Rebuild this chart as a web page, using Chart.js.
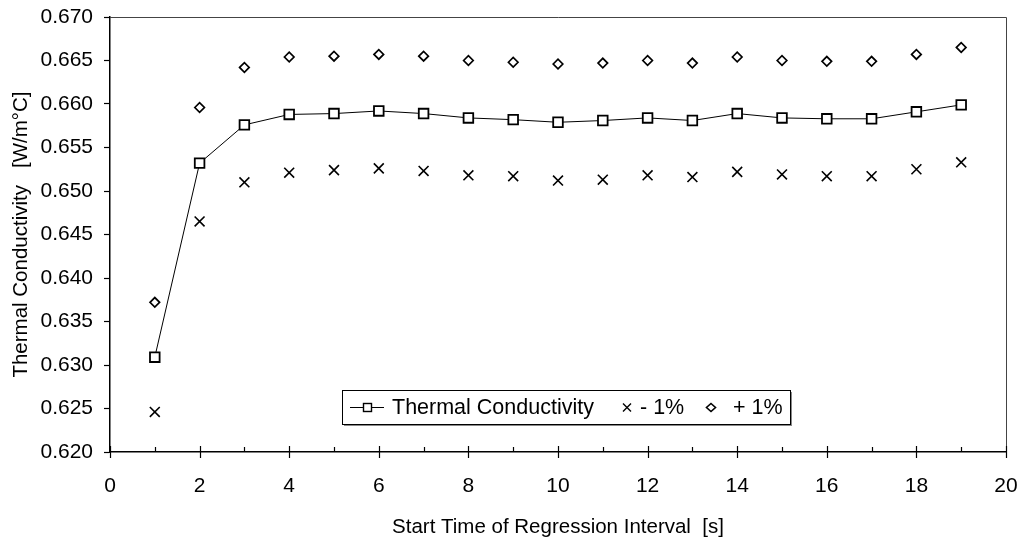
<!DOCTYPE html>
<html>
<head>
<meta charset="utf-8">
<script src="https://cdn.jsdelivr.net/npm/chart.js@4"></script>
<style>
  html, body { margin: 0; padding: 0; background: #fff; }
</style>
</head>
<body>
<canvas id="myChart" width="1024" height="544"></canvas>
<script>
// start time of regression interval [s]
let startTimes = [1, 2, 3, 4, 5, 6, 7, 8, 9, 10, 11, 12, 13, 14, 15, 16, 17, 18, 19];
// thermal conductivity [W/m°C]
let conductivity = [0.6309, 0.6532, 0.6576, 0.6588, 0.6589, 0.6592, 0.6589, 0.6584, 0.6582, 0.6579,
                    0.6581, 0.6584, 0.6581, 0.6589, 0.6584, 0.6583, 0.6583, 0.6591, 0.6599];
let minusOne = [0.6246, 0.6465, 0.6510, 0.6521, 0.6524, 0.6526, 0.6523, 0.6518, 0.6517, 0.6512,
                0.6513, 0.6518, 0.6516, 0.6522, 0.6519, 0.6517, 0.6517, 0.6525, 0.6533];
let plusOne = [0.6372, 0.6596, 0.6642, 0.6654, 0.6655, 0.6657, 0.6655, 0.6650, 0.6648, 0.6646,
               0.6647, 0.6650, 0.6647, 0.6654, 0.6650, 0.6649, 0.6649, 0.6657, 0.6665];

let xTicks = [0, 2, 4, 6, 8, 10, 12, 14, 16, 18, 20];
let yMin = 0.620, yMax = 0.670, yStep = 0.005;

let font = "'Liberation Sans', Arial, sans-serif";
let fontSize = 21;
let titleSize = 20.5;

function points(values) {
    return startTimes.map((t, i) => ({x: t, y: values[i]}));
}

// top/right frame, x tick marks (major + minor)
let framePlugin = {
    id: 'frame',
    afterDraw(chart) {
        let ctx = chart.ctx;
        let a = chart.chartArea;
        let xs = chart.scales.x;
        ctx.save();
        ctx.strokeStyle = '#444';
        ctx.lineWidth = 1;
        ctx.beginPath();
        ctx.moveTo(a.left, a.top + 0.5);
        ctx.lineTo(a.right + 0.5, a.top + 0.5);
        ctx.lineTo(a.right + 0.5, a.bottom);
        ctx.stroke();

        ctx.strokeStyle = '#000';
        ctx.lineWidth = 1.2;
        for (let v = 0; v <= 20; v++) {
            let px = Math.round(xs.getPixelForValue(v)) + 0.5;
            ctx.beginPath();
            if (xTicks.includes(v)) {
                ctx.moveTo(px, a.bottom - 6);
                ctx.lineTo(px, a.bottom + 6);
            } else {
                ctx.moveTo(px, a.bottom - 5);
                ctx.lineTo(px, a.bottom);
            }
            ctx.stroke();
        }
        ctx.restore();
    }
};

// legend box inside the plot area
let legendPlugin = {
    id: 'boxLegend',
    afterDraw(chart) {
        let ctx = chart.ctx;
        let left = 342, top = 390, w = 448, h = 34;
        let cy = top + h / 2;
        ctx.save();
        ctx.fillStyle = '#888';
        ctx.fillRect(left + 2, top + 2, w, h);
        ctx.fillStyle = '#fff';
        ctx.fillRect(left, top, w, h);
        ctx.strokeStyle = '#000';
        ctx.lineWidth = 1;
        ctx.strokeRect(left + 0.5, top + 0.5, w, h);

        ctx.lineWidth = 1.2;
        // line + square
        ctx.beginPath();
        ctx.moveTo(350, cy + 0.5);
        ctx.lineTo(384, cy + 0.5);
        ctx.stroke();
        ctx.fillStyle = '#fff';
        ctx.lineWidth = 1.4;
        ctx.fillRect(363.5, cy - 3.5, 8, 8);
        ctx.strokeRect(363.5, cy - 3.5, 8, 8);
        // cross
        ctx.beginPath();
        ctx.moveTo(623, cy - 3.5);
        ctx.lineTo(631, cy + 4.5);
        ctx.moveTo(631, cy - 3.5);
        ctx.lineTo(623, cy + 4.5);
        ctx.stroke();
        // diamond
        ctx.lineWidth = 1.6;
        ctx.beginPath();
        ctx.moveTo(711, cy - 3.5);
        ctx.lineTo(715.5, cy + 0.5);
        ctx.lineTo(711, cy + 4.5);
        ctx.lineTo(706.5, cy + 0.5);
        ctx.closePath();
        ctx.stroke();

        ctx.fillStyle = '#000';
        ctx.font = '21.5px ' + font;
        ctx.textBaseline = 'middle';
        ctx.textAlign = 'left';
        let labels = chart.data.datasets.map(d => d.label);
        ctx.fillText(labels[0], 392, cy + 1);
        ctx.fillText(labels[1], 640, cy + 1);
        ctx.fillText(labels[2], 733, cy + 1);
        ctx.restore();
    }
};

let chart = new Chart(document.getElementById('myChart'), {
    type: 'scatter',
    data: {
        datasets: [{
            label: 'Thermal Conductivity',
            data: points(conductivity),
            showLine: true,
            borderColor: '#000',
            borderWidth: 1,
            pointStyle: 'rect',
            pointRadius: 6.8,
            pointBorderWidth: 1.8,
            pointBorderColor: '#000',
            pointBackgroundColor: '#fff'
        }, {
            label: '- 1%',
            data: points(minusOne),
            showLine: false,
            pointStyle: 'crossRot',
            pointRadius: 7,
            pointBorderWidth: 1.6,
            pointBorderColor: '#000',
            pointBackgroundColor: '#000'
        }, {
            label: '+ 1%',
            data: points(plusOne),
            showLine: false,
            pointStyle: 'rectRot',
            pointRadius: 4.8,
            pointBorderWidth: 1.7,
            pointBorderColor: '#000',
            pointBackgroundColor: '#fff'
        }]
    },
    options: {
        responsive: false,
        animation: false,
        layout: {padding: {top: 17, right: 18, left: 0, bottom: 0}},
        plugins: {
            legend: {display: false},
            tooltip: {enabled: false}
        },
        scales: {
            x: {
                type: 'linear',
                min: 0,
                max: 20,
                afterBuildTicks: s => { s.ticks = xTicks.map(v => ({value: v})); },
                ticks: {color: '#000', font: {family: font, size: fontSize}, padding: 14, maxRotation: 0},
                grid: {display: false},
                border: {color: '#000', width: 1.5},
                title: {
                    display: true,
                    text: 'Start Time of Regression Interval  [s]',
                    color: '#000',
                    font: {family: font, size: titleSize},
                    padding: {top: 10, bottom: 4}
                },
                afterFit: s => {
                    s.height = 92;
                    s.paddingLeft = 0;
                    s.paddingRight = 0;
                }
            },
            y: {
                min: yMin,
                max: yMax,
                ticks: {
                    stepSize: yStep,
                    color: '#000',
                    font: {family: font, size: fontSize},
                    padding: 11,
                    callback: v => v.toFixed(3)
                },
                grid: {drawOnChartArea: false, tickLength: 6, color: '#000', tickWidth: 1.2},
                border: {color: '#000', width: 1.5},
                title: {
                    display: true,
                    text: 'Thermal Conductivity   [W/m°C]',
                    color: '#000',
                    font: {family: font, size: titleSize},
                    padding: {top: 9, bottom: 0}
                },
                afterFit: s => {
                    s.width = 110;
                    s.paddingTop = 0;
                    s.paddingBottom = 0;
                }
            }
        }
    },
    plugins: [framePlugin, legendPlugin]
});
</script>
</body>
</html>
